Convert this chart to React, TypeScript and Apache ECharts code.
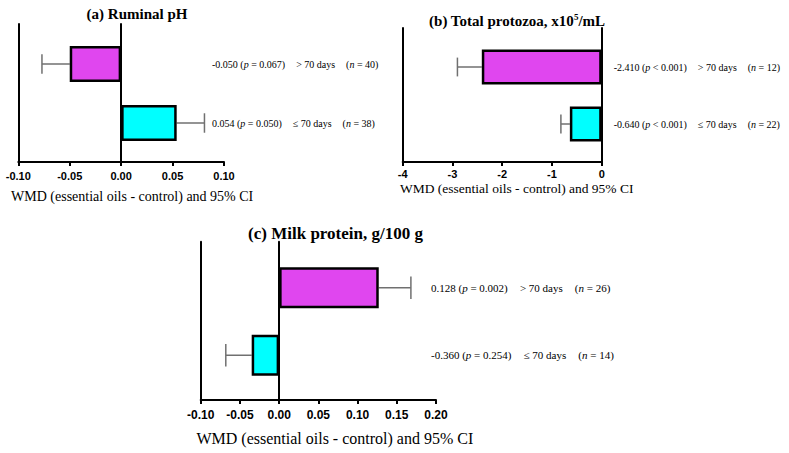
import { useEffect, useRef } from 'react';
import * as echarts from 'echarts';

// Categories (bottom to top)
const groups = ['≤ 70 days', '> 70 days'];

// (a) Ruminal pH
const phWmd = [0.054, -0.05];
const phCiBound = [0.081, -0.077];
const phWmdText = ['0.054', '-0.050'];
const phP = ['= 0.050', '= 0.067'];
const phN = [38, 40];
const phTicks = { min: -0.1, max: 0.1, interval: 0.05, decimals: 2 };

// (b) Total protozoa
const protozoaWmd = [-0.64, -2.41];
const protozoaCiBound = [-0.82, -2.9];
const protozoaWmdText = ['-0.640', '-2.410'];
const protozoaP = ['< 0.001', '< 0.001'];
const protozoaN = [22, 12];
const protozoaTicks = { min: -4, max: 0, interval: 1, decimals: 0 };

// (c) Milk protein
const milkWmd = [-0.035, 0.127];
const milkCiBound = [-0.068, 0.168];
const milkWmdText = ['-0.360', '0.128'];
const milkP = ['= 0.254', '= 0.002'];
const milkN = [14, 26];
const milkTicks = { min: -0.1, max: 0.2, interval: 0.05, decimals: 2 };

const axisName = 'WMD (essential oils - control) and 95% CI';

const barColors = ['#00FFFF', '#E046EF'];
const serif = '"Liberation Serif", "Times New Roman", serif';
const sans = '"Liberation Sans", Arial, sans-serif';

const panels = [
  {
    wmd: phWmd, ci: phCiBound, text: phWmdText, p: phP, n: phN, ticks: phTicks,
    frame: { left: 18.3, top: 24, width: 205.7, height: 138 },
    bars: { top: 34.5, height: 118 }, barWidth: 36,
    labelMargin: -12, labelSize: 10, tickSize: 11, tickMargin: 8,
    nameGap: 27, nameSize: 14, nameShift: 22,
  },
  {
    wmd: protozoaWmd, ci: protozoaCiBound, text: protozoaWmdText, p: protozoaP, n: protozoaN, ticks: protozoaTicks,
    frame: { left: 402.7, top: 28, width: 199, height: 134 },
    bars: { top: 38.5, height: 114 }, barWidth: 35,
    labelMargin: 12, labelSize: 10, tickSize: 11, tickMargin: 6,
    nameGap: 19, nameSize: 13.5, nameShift: 29,
  },
  {
    wmd: milkWmd, ci: milkCiBound, text: milkWmdText, p: milkP, n: milkN, ticks: milkTicks,
    frame: { left: 200.7, top: 241.7, width: 235.3, height: 158.3 },
    bars: { top: 254, height: 135 }, barWidth: 41,
    labelMargin: -5, labelSize: 11, tickSize: 12, tickMargin: 9,
    nameGap: 30, nameSize: 16, nameShift: 33,
  },
];

function buildOption() {
  const grid: any[] = [];
  const xAxis: any[] = [];
  const yAxis: any[] = [];
  const series: any[] = [];

  panels.forEach((pn, i) => {
    const gFrame = 2 * i;
    const gBars = 2 * i + 1;
    grid.push({ left: pn.frame.left, top: pn.frame.top, width: pn.frame.width, height: pn.frame.height, outerBoundsMode: 'none' });
    grid.push({ left: pn.frame.left, top: pn.bars.top, width: pn.frame.width, height: pn.bars.height, outerBoundsMode: 'none' });

    xAxis.push({
      type: 'value', gridIndex: gFrame,
      min: pn.ticks.min, max: pn.ticks.max, interval: pn.ticks.interval,
      splitLine: { show: false },
      axisLine: { show: true, onZero: false, lineStyle: { color: '#000', width: 2 } },
      axisTick: { show: true, length: 4, lineStyle: { color: '#000', width: 2 } },
      axisLabel: {
        margin: pn.tickMargin, color: '#000', fontFamily: sans, fontWeight: 'bold', fontSize: pn.tickSize,
        formatter: (v: number) => v.toFixed(pn.ticks.decimals),
      },
      name: axisName, nameLocation: 'middle', nameGap: pn.nameGap, nameMoveOverlap: false,
      nameTextStyle: { fontFamily: serif, fontSize: pn.nameSize, color: '#000', padding: [0, 0, 0, pn.nameShift] },
    });
    xAxis.push({
      type: 'value', gridIndex: gBars, show: false,
      min: pn.ticks.min, max: pn.ticks.max, interval: pn.ticks.interval,
      splitLine: { show: false },
    });

    // frame: left axis line
    yAxis.push({
      type: 'category', gridIndex: gFrame, data: groups,
      axisLine: { show: true, onZero: false, lineStyle: { color: '#000', width: 2 } },
      axisTick: { show: false }, axisLabel: { show: false }, splitLine: { show: false },
    });
    // frame: zero line
    yAxis.push({
      type: 'category', gridIndex: gFrame, data: groups, position: 'left',
      axisLine: { show: true, onZero: true, lineStyle: { color: '#000', width: 2 } },
      axisTick: { show: false }, axisLabel: { show: false }, splitLine: { show: false },
    });
    // bars: category axis (hidden)
    yAxis.push({
      type: 'category', gridIndex: gBars, data: groups,
      axisLine: { show: false, onZero: false }, axisTick: { show: false }, axisLabel: { show: false },
    });
    // bars: right annotation labels
    yAxis.push({
      type: 'category', gridIndex: gBars, position: 'right',
      data: groups.map((g, k) =>
        `{v|${pn.text[k]} (}{i|p}{v| ${pn.p[k]})}{g| }{v|${g}}{g| }{v|(}{i|n}{v| = ${pn.n[k]})}`),
      axisLine: { show: false, onZero: false }, axisTick: { show: false },
      axisLabel: {
        interval: 0, margin: pn.labelMargin, align: 'left', color: '#000',
        fontFamily: serif, fontSize: pn.labelSize,
        rich: {
          v: { fontFamily: serif, fontSize: pn.labelSize, color: '#000' },
          i: { fontFamily: serif, fontSize: pn.labelSize, fontStyle: 'italic', color: '#000' },
          g: { fontFamily: serif, fontSize: pn.labelSize, width: pn.labelSize * 1.1 },
        },
      },
    });

    const yBase = 4 * i + 2;
    series.push({
      type: 'bar', xAxisIndex: gBars, yAxisIndex: yBase,
      barWidth: pn.barWidth,
      itemStyle: { borderColor: '#000', borderWidth: 2.5 },
      data: pn.wmd.map((v, k) => ({ value: v, itemStyle: { color: barColors[k] } })),
      z: 2,
    });
    series.push({
      type: 'custom', xAxisIndex: gBars, yAxisIndex: yBase,
      encode: { x: [1, 2], y: 0 },
      data: pn.wmd.map((v, k) => [k, v, pn.ci[k]]),
      z: 1,
      renderItem: (params: any, api: any) => {
        const cat = api.value(0);
        const start = api.coord([api.value(1), cat]);
        const end = api.coord([api.value(2), cat]);
        const half = api.size([0, 1])[1] * 0.165;
        const st = { stroke: '#707070', lineWidth: 1.5 };
        return {
          type: 'group',
          children: [
            { type: 'line', shape: { x1: start[0], y1: start[1], x2: end[0], y2: end[1] }, style: st },
            { type: 'line', shape: { x1: end[0], y1: end[1] - half, x2: end[0], y2: end[1] + half }, style: st },
          ],
        };
      },
    });
  });

  const titleStyle = { fontFamily: serif, fontWeight: 'bold', fill: '#000' };
  const graphic = [
    {
      type: 'text', x: 137, y: 14,
      style: { ...titleStyle, text: '(a) Ruminal pH', fontSize: 15, align: 'center', verticalAlign: 'middle' },
    },
    {
      type: 'text', x: 517, y: 21,
      style: {
        ...titleStyle, text: '{t|(b) Total protozoa, x10}{s|5}{t|/mL}', fontSize: 15,
        align: 'center', verticalAlign: 'middle',
        rich: {
          t: { fontFamily: serif, fontWeight: 'bold', fontSize: 15, lineHeight: 18 },
          s: { fontFamily: serif, fontWeight: 'bold', fontSize: 9, lineHeight: 10, verticalAlign: 'top' },
        },
      },
    },
    {
      type: 'text', x: 335.5, y: 233,
      style: { ...titleStyle, text: '(c) Milk protein, g/100 g', fontSize: 17, align: 'center', verticalAlign: 'middle' },
    },
  ];

  return { animation: false, backgroundColor: '#fff', grid, xAxis, yAxis, series, graphic };
}

export default function App() {
  const ref = useRef<HTMLDivElement>(null);
  useEffect(() => {
    if (!ref.current) return;
    const chart = echarts.init(ref.current, undefined, { renderer: 'svg' });
    chart.setOption(buildOption() as any);
    return () => chart.dispose();
  }, []);
  return (
    <div
      ref={ref}
      style={{ position: 'fixed', left: 0, top: 0, width: 789, height: 453, background: '#fff' }}
    />
  );
}
